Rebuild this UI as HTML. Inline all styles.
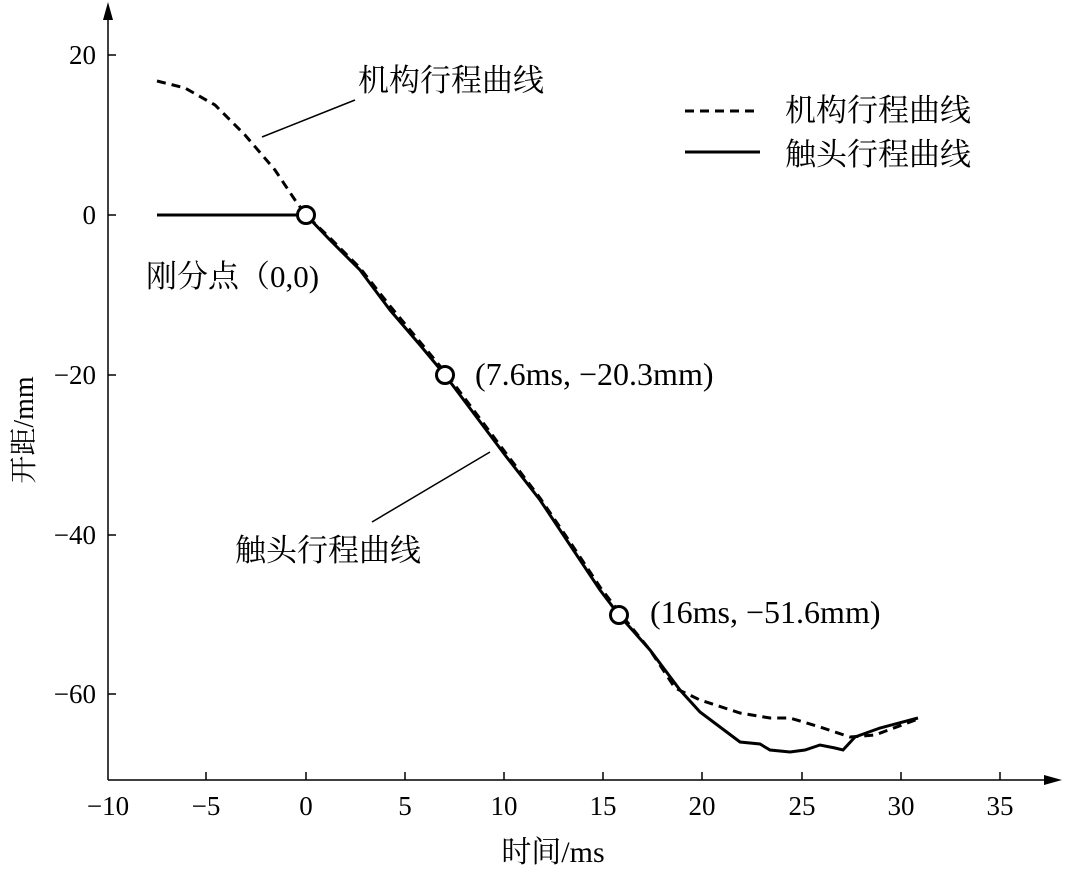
<!DOCTYPE html>
<html><head><meta charset="utf-8"><style>
body{margin:0;background:#fff;}
svg text{font-family:"Liberation Serif","Noto Serif CJK SC","Noto Sans CJK SC",serif;fill:#000;}
</style></head><body>
<svg width="1066" height="867" viewBox="0 0 1066 867" xmlns="http://www.w3.org/2000/svg">
<g stroke="#000" stroke-width="1.5" fill="none">
<line x1="108" y1="780" x2="1055" y2="780"/>
<line x1="108" y1="780" x2="108" y2="8"/>
</g>
<polygon points="1062,780 1044,775 1044,785" fill="#000"/>
<polygon points="108,2 103,20 113,20" fill="#000"/>
<g stroke="#000" stroke-width="1.5">
<line x1="206" y1="780" x2="206" y2="772"/><line x1="306" y1="780" x2="306" y2="772"/>
<line x1="405" y1="780" x2="405" y2="772"/><line x1="504" y1="780" x2="504" y2="772"/>
<line x1="603" y1="780" x2="603" y2="772"/><line x1="702" y1="780" x2="702" y2="772"/>
<line x1="802" y1="780" x2="802" y2="772"/><line x1="901" y1="780" x2="901" y2="772"/>
<line x1="1000" y1="780" x2="1000" y2="772"/>
<line x1="108" y1="55" x2="116" y2="55"/><line x1="108" y1="215" x2="116" y2="215"/>
<line x1="108" y1="375" x2="116" y2="375"/><line x1="108" y1="535" x2="116" y2="535"/>
<line x1="108" y1="694" x2="116" y2="694"/>
</g>
<g font-size="27" text-anchor="middle">
<text x="108" y="815">−10</text><text x="206" y="815">−5</text><text x="306" y="815">0</text>
<text x="405" y="815">5</text><text x="504" y="815">10</text><text x="603" y="815">15</text>
<text x="702" y="815">20</text><text x="802" y="815">25</text><text x="901" y="815">30</text>
<text x="1000" y="815">35</text>
</g>
<g font-size="27" text-anchor="end">
<text x="96" y="64">20</text><text x="96" y="224">0</text><text x="96" y="384">−20</text>
<text x="96" y="544">−40</text><text x="96" y="703">−60</text>
</g>
<text x="553" y="862" font-size="30" text-anchor="middle">时间/ms</text>
<text transform="translate(33,430) rotate(-90)" font-size="28" text-anchor="middle">开距/mm</text>
<polyline fill="none" stroke="#000" stroke-width="3" stroke-dasharray="9,6" points="157,81 185,88 215,105 245,135 275,170 295,200 306,215 330,238 360,268 390,306 420,342 445,372 475,412 505,452 540,498 570,542 600,587 619,612 650,650 675,688 700,700 740,713 770,718 790,718 820,727 850,737 875,735 918,719"/>
<polyline fill="none" stroke="#000" stroke-width="3" points="157,215 306,215 330,240 360,270 390,310 420,345 445,375 475,415 505,455 540,500 570,545 600,590 619,615 650,650 680,690 700,712 720,727 740,742 760,744 770,750 790,752 805,750 820,745 835,748 843,750 855,737 880,728 918,718"/>
<g fill="#fff" stroke="#000" stroke-width="3">
<circle cx="306" cy="215" r="8.5"/><circle cx="445" cy="375" r="8.5"/><circle cx="619" cy="615" r="8.5"/>
</g>
<g stroke="#000" stroke-width="1.5">
<line x1="355" y1="100" x2="262" y2="137"/>
<line x1="372" y1="522" x2="490" y2="452"/>
</g>
<g font-size="31">
<text x="358" y="91">机构行程曲线</text>
<text x="235" y="561">触头行程曲线</text>
<text x="146" y="287">刚分点（0,0)</text>
<text x="785" y="121">机构行程曲线</text>
<text x="785" y="165">触头行程曲线</text>
</g>
<g font-size="32">
<text x="475" y="385">(7.6ms, −20.3mm)</text>
<text x="650" y="623">(16ms, −51.6mm)</text>
</g>
<line x1="685" y1="111" x2="760" y2="111" stroke="#000" stroke-width="3" stroke-dasharray="9,6"/>
<line x1="685" y1="152" x2="760" y2="152" stroke="#000" stroke-width="3"/>
</svg>
</body></html>
